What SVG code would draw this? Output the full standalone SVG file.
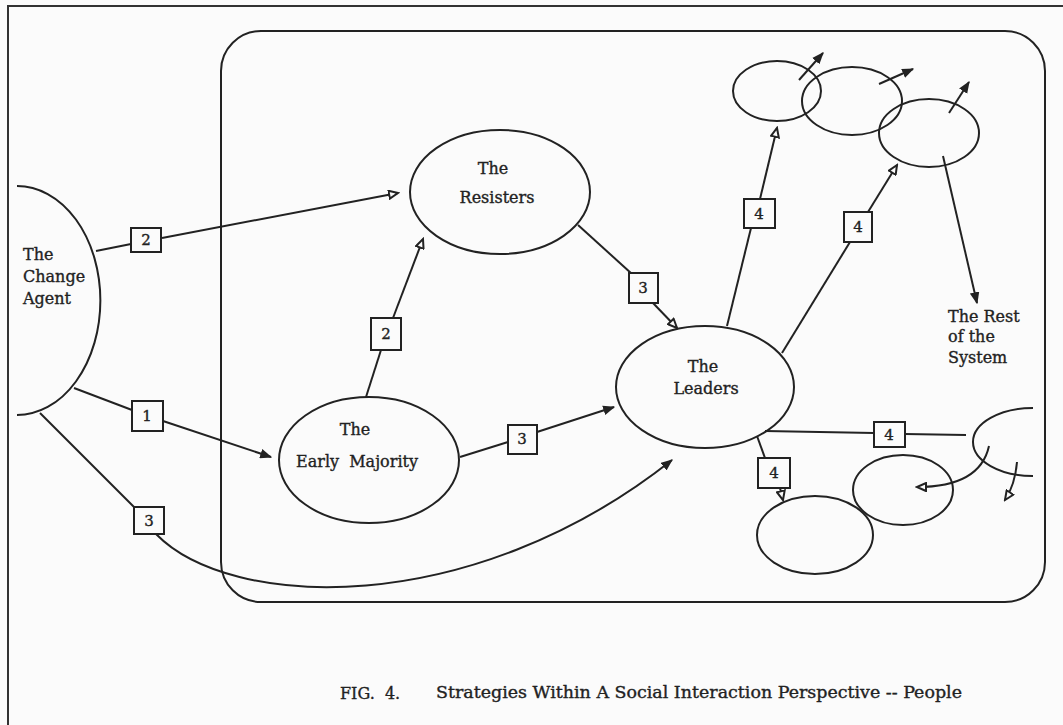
<svg xmlns="http://www.w3.org/2000/svg" width="1063" height="725" viewBox="0 0 1063 725">
<defs>
<style>
.ln{fill:none;stroke:#222;stroke-width:2}
.nd{fill:none;stroke:#222;stroke-width:2}
.bx{fill:#fbfbfb;stroke:#222;stroke-width:2}
.tx{font-family:"DejaVu Serif","Liberation Serif",serif;font-size:16px;fill:#222;stroke:#222;stroke-width:0.35}
.bt{font-family:"DejaVu Serif","Liberation Serif",serif;font-size:15px;fill:#222;stroke:#222;stroke-width:0.35;text-anchor:middle}
.fa{marker-end:url(#filled)}
.oa{marker-end:url(#open)}
</style>
<marker id="filled" viewBox="0 0 10 8" refX="9" refY="4" markerWidth="12" markerHeight="10" markerUnits="userSpaceOnUse" orient="auto">
<path d="M0,0 L10,4 L0,8 z" fill="#222"/>
</marker>
<marker id="open" viewBox="0 0 12 10" refX="10" refY="5" markerWidth="12" markerHeight="10" markerUnits="userSpaceOnUse" orient="auto">
<path d="M1,1 L10,5 L1,9 z" fill="#fbfbfb" stroke="#222" stroke-width="2"/>
</marker>
</defs>
<rect x="0" y="0" width="1063" height="725" fill="#fbfbfb"/>
<path d="M8 725 V6 H1063" fill="none" stroke="#333" stroke-width="2"/>
<rect id="system" x="221" y="31" width="824" height="571" rx="40" ry="40" class="nd"/>

<g id="change-agent">
<path d="M17 186 A83 114 0 0 1 17 415" class="nd"/>
<text class="tx" x="23" y="260">The</text>
<text class="tx" x="23" y="282">Change</text>
<text class="tx" x="23" y="304">Agent</text>
</g>
<g id="resisters">
<ellipse cx="500" cy="192" rx="90" ry="62" class="nd"/>
<text class="tx" x="493" y="174" text-anchor="middle">The</text>
<text class="tx" x="497" y="203" text-anchor="middle">Resisters</text>
</g>
<g id="early-majority">
<ellipse cx="369" cy="460" rx="90" ry="63" class="nd"/>
<text class="tx" x="355" y="435" text-anchor="middle">The</text>
<text class="tx" x="357" y="467" text-anchor="middle" xml:space="preserve">Early  Majority</text>
</g>
<g id="leaders">
<ellipse cx="705" cy="387" rx="89" ry="61" class="nd"/>
<text class="tx" x="703" y="372" text-anchor="middle">The</text>
<text class="tx" x="706" y="394" text-anchor="middle">Leaders</text>
</g>
<g id="group-a"><ellipse cx="777" cy="91" rx="44" ry="30" class="nd"/></g>
<g id="group-b"><ellipse cx="852" cy="101" rx="50" ry="34" class="nd"/></g>
<g id="group-c"><ellipse cx="929" cy="133" rx="50" ry="34" class="nd"/></g>
<g id="group-d"><path d="M1033 408 A60 34 0 0 0 1033 476" class="nd"/></g>
<g id="group-e"><ellipse cx="903" cy="490" rx="50" ry="35" class="nd"/></g>
<g id="group-f"><ellipse cx="815" cy="535" rx="58" ry="39" class="nd"/></g>
<g id="rest-label">
<text class="tx" x="948" y="322">The Rest</text>
<text class="tx" x="948" y="342">of the</text>
<text class="tx" x="948" y="363">System</text>
</g>

<g id="connectors">
<line x1="96" y1="251" x2="131" y2="244" class="ln"/>
<line x1="162" y1="238" x2="398" y2="193" class="ln oa"/>
<rect x="131" y="228" width="30" height="24" class="bx"/>
<text class="bt" x="146" y="245">2</text>
<line x1="74" y1="388" x2="132" y2="410" class="ln"/>
<line x1="163" y1="421" x2="271" y2="457" class="ln fa"/>
<rect x="132" y="401" width="31" height="30" class="bx"/>
<text class="bt" x="147" y="421">1</text>
<line x1="40" y1="413" x2="136" y2="509" class="ln"/>
<path d="M156 534 C230 610 470 620 672 460" class="ln fa"/>
<rect x="134" y="507" width="30" height="27" class="bx"/>
<text class="bt" x="149" y="526">3</text>
<line x1="366" y1="397" x2="381" y2="350" class="ln"/>
<line x1="393" y1="318" x2="423" y2="239" class="ln oa"/>
<rect x="371" y="318" width="30" height="32" class="bx"/>
<text class="bt" x="386" y="339">2</text>
<line x1="460" y1="457" x2="508" y2="442" class="ln"/>
<line x1="537" y1="432" x2="614" y2="407" class="ln fa"/>
<rect x="508" y="425" width="29" height="29" class="bx"/>
<text class="bt" x="522" y="444">3</text>
<line x1="578" y1="225" x2="632" y2="274" class="ln"/>
<line x1="653" y1="303" x2="677" y2="328" class="ln oa"/>
<rect x="629" y="273" width="29" height="30" class="bx"/>
<text class="bt" x="643" y="293">3</text>
<line x1="727" y1="326" x2="751" y2="228" class="ln"/>
<line x1="760" y1="199" x2="777" y2="128" class="ln oa"/>
<rect x="744" y="199" width="31" height="29" class="bx"/>
<text class="bt" x="759" y="219">4</text>
<line x1="782" y1="353" x2="850" y2="242" class="ln"/>
<line x1="868" y1="212" x2="897" y2="165" class="ln oa"/>
<rect x="844" y="212" width="28" height="30" class="bx"/>
<text class="bt" x="858" y="232">4</text>
<line x1="799" y1="80" x2="823" y2="53" class="ln fa"/>
<line x1="879" y1="84" x2="913" y2="69" class="ln fa"/>
<line x1="949" y1="113" x2="969" y2="82" class="ln fa"/>
<line x1="943" y1="156" x2="977" y2="303" class="ln fa"/>
<line x1="765" y1="431" x2="874" y2="433" class="ln"/>
<line x1="905" y1="434" x2="966" y2="435" class="ln"/>
<rect x="874" y="422" width="31" height="25" class="bx"/>
<text class="bt" x="889" y="440">4</text>
<line x1="757" y1="436" x2="765" y2="458" class="ln"/>
<line x1="780" y1="488" x2="783" y2="500" class="ln oa"/>
<rect x="758" y="458" width="32" height="30" class="bx"/>
<text class="bt" x="774" y="478">4</text>
<path d="M989 446 Q980 487 917 487" class="ln oa"/>
<path d="M1017 462 Q1015 485 1005 500" class="ln oa"/>
</g>

<g id="caption">
<text class="tx" x="340" y="699" xml:space="preserve">FIG.  4.</text>
<text class="tx" x="436" y="698" textLength="526" lengthAdjust="spacingAndGlyphs">Strategies Within A Social Interaction Perspective -- People</text>
</g>
</svg>
